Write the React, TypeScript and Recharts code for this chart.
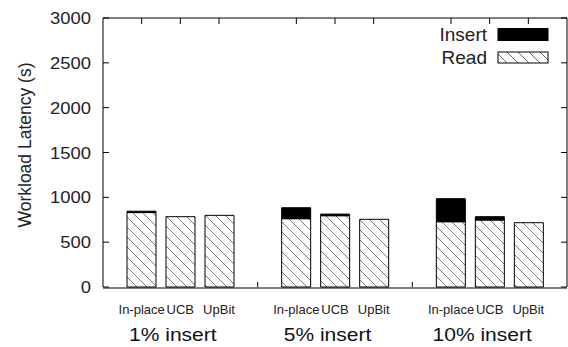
import React from "react";
import { ComposedChart, Bar, Line, XAxis, YAxis, Legend } from "recharts";

const groups = ["1% insert", "5% insert", "10% insert"];
const methods = ["In-place", "UCB", "UpBit"];
const readInPlace = [830, 762, 728];
const insertInPlace = [15, 122, 257];
const readUCB = [784, 795, 747];
const insertUCB = [0, 18, 37];
const readUpBit = [799, 755, 717];
const insertUpBit = [0, 0, 0];
const yTicks = [0, 500, 1000, 1500, 2000, 2500, 3000];
const legendItems = ["Insert", "Read"];
const yLabel = "Workload Latency (s)";

const data = groups.map((g, i) => ({
  group: g,
  pos: i + 0.5,
  readInPlace: readInPlace[i],
  insertInPlace: insertInPlace[i],
  readUCB: readUCB[i],
  insertUCB: insertUCB[i],
  readUpBit: readUpBit[i],
  insertUpBit: insertUpBit[i],
}));

// bar-center positions on a 0..groups.length numeric axis
const barTicks: number[] = [];
groups.forEach((_, g) => methods.forEach((_, m) => barTicks.push(g + (m + 1) / (methods.length + 1))));
const boundaryTicks = groups.slice(1).map((_, i) => i + 1);
const bottomTicks = [...barTicks, ...boundaryTicks];

const FONT = "'Liberation Sans', Arial, Helvetica, sans-serif";
const PLOT_LEFT = 103;
const PLOT_RIGHT = 567;
const PLOT_TOP = 18;
const PLOT_BOTTOM = 287;

const LeftTick = (props: any) => {
  const { y, payload } = props;
  return (
    <g>
      <line x1={PLOT_LEFT} x2={PLOT_LEFT + 6} y1={y} y2={y} stroke="#000" strokeWidth={1} />
      <text
        transform={`translate(91,${y + 6}) scale(1.15,1)`}
        textAnchor="end"
        fontSize={16}
        fontFamily={FONT}
        fill="#222"
      >
        {payload.value}
      </text>
    </g>
  );
};

const RightTick = (props: any) => {
  const { y } = props;
  return <line x1={PLOT_RIGHT} x2={PLOT_RIGHT - 6} y1={y} y2={y} stroke="#000" strokeWidth={1} />;
};

const TopTick = (props: any) => {
  const { x } = props;
  return <line x1={x} x2={x} y1={PLOT_TOP} y2={PLOT_TOP + 6} stroke="#000" strokeWidth={1} />;
};

const BottomTick = (props: any) => {
  const { x, payload } = props;
  const v = payload.value as number;
  if (Math.abs(v - Math.round(v)) < 1e-6) {
    return <line x1={x} x2={x} y1={PLOT_BOTTOM} y2={PLOT_BOTTOM - 5} stroke="#000" strokeWidth={1} />;
  }
  const g = Math.floor(v);
  const m = Math.round((v - g) * (methods.length + 1)) - 1;
  return (
    <text x={x} y={314} textAnchor="middle" fontSize={13} fontFamily={FONT} fill="#222">
      {methods[m]}
    </text>
  );
};

const GroupTick = (props: any) => {
  const { x, payload } = props;
  return (
    <text
      transform={`translate(${x - 7.5},341) scale(1.2,1)`}
      textAnchor="middle"
      fontSize={17.5}
      fontFamily={FONT}
      fill="#111"
    >
      {payload.value}
    </text>
  );
};

const YLabel = () => (
  <text
    transform="translate(31,145) rotate(-90)"
    textAnchor="middle"
    fontSize={17.5}
    fontFamily={FONT}
    fill="#222"
  >
    {yLabel}
  </text>
);

const LegendContent = () => (
  <svg width={140} height={50} style={{ overflow: "visible" }}>
    <defs>
      <pattern id="hatchLegend" patternUnits="userSpaceOnUse" width={11} height={11}>
        <path d="M0,0 L11,11 M-5.5,5.5 L5.5,16.5 M5.5,-5.5 L16.5,5.5" stroke="#666" strokeWidth={1} />
      </pattern>
    </defs>
    <text x={67} y={20.5} textAnchor="end" fontSize={19} fontFamily={FONT} fill="#222">
      {legendItems[0]}
    </text>
    <rect x={78} y={8.5} width={50} height={12} fill="#000" stroke="#000" />
    <text x={67} y={44} textAnchor="end" fontSize={19} fontFamily={FONT} fill="#222">
      {legendItems[1]}
    </text>
    <rect x={78} y={32} width={50} height={11} fill="url(#hatchLegend)" stroke="#000" />
  </svg>
);

export default function App() {
  return (
    <div style={{ position: "absolute", left: 0, top: 0, width: 568, height: 347, background: "#fff" }}>
      <ComposedChart
        width={568}
        height={347}
        data={data}
        margin={{ top: PLOT_TOP - 1, right: 0, bottom: 0, left: 0 }}
        barSize={29}
        barGap={10}
      >
        <defs>
          <pattern id="hatch" patternUnits="userSpaceOnUse" width={10} height={10}>
            <path d="M0,0 L10,10 M-5,5 L5,15 M5,-5 L15,5" stroke="#777" strokeWidth={1} />
          </pattern>
        </defs>
        <XAxis
          xAxisId="cat"
          dataKey="group"
          type="category"
          height={59}
          axisLine={{ stroke: "#000" }}
          tickLine={false}
          tick={<GroupTick />}
          interval={0}
        />
        <XAxis
          xAxisId="bottom"
          dataKey="pos"
          type="number"
          domain={[0, groups.length]}
          allowDataOverflow
          ticks={bottomTicks}
          height={1}
          axisLine={false}
          tickLine={false}
          tick={<BottomTick />}
          interval={0}
        />
        <XAxis
          xAxisId="top"
          dataKey="pos"
          orientation="top"
          type="number"
          domain={[0, groups.length]}
          allowDataOverflow
          ticks={barTicks}
          height={1}
          axisLine={{ stroke: "#000" }}
          tickLine={false}
          tick={<TopTick />}
          interval={0}
        />
        <YAxis
          yAxisId="left"
          domain={[0, 3000]}
          ticks={yTicks}
          width={PLOT_LEFT}
          axisLine={{ stroke: "#000" }}
          tickLine={false}
          tick={<LeftTick />}
          interval={0}
          label={<YLabel />}
        />
        <YAxis
          yAxisId="right"
          orientation="right"
          domain={[0, 3000]}
          allowDataOverflow
          ticks={yTicks}
          width={1}
          axisLine={{ stroke: "#000" }}
          tickLine={false}
          tick={<RightTick />}
          interval={0}
        />
        <Legend
          layout="vertical"
          align="center"
          verticalAlign="middle"
          content={<LegendContent />}
          wrapperStyle={{ left: 420, top: 20, width: 140, height: 50 }}
        />
        <Bar xAxisId="cat" yAxisId="left" dataKey="readInPlace" stackId="a" fill="url(#hatch)" stroke="#000" strokeWidth={1} isAnimationActive={false} />
        <Bar xAxisId="cat" yAxisId="left" dataKey="insertInPlace" stackId="a" fill="#000" stroke="#000" strokeWidth={1} isAnimationActive={false} />
        <Bar xAxisId="cat" yAxisId="left" dataKey="readUCB" stackId="b" fill="url(#hatch)" stroke="#000" strokeWidth={1} isAnimationActive={false} />
        <Bar xAxisId="cat" yAxisId="left" dataKey="insertUCB" stackId="b" fill="#000" stroke="#000" strokeWidth={1} isAnimationActive={false} />
        <Bar xAxisId="cat" yAxisId="left" dataKey="readUpBit" stackId="c" fill="url(#hatch)" stroke="#000" strokeWidth={1} isAnimationActive={false} />
        <Bar xAxisId="cat" yAxisId="left" dataKey="insertUpBit" stackId="c" fill="#000" stroke="#000" strokeWidth={1} isAnimationActive={false} />
        <Line xAxisId="top" yAxisId="right" dataKey="readUCB" stroke="none" dot={false} activeDot={false} isAnimationActive={false} legendType="none" />
        <Line xAxisId="bottom" yAxisId="right" dataKey="readUCB" stroke="none" dot={false} activeDot={false} isAnimationActive={false} legendType="none" />
      </ComposedChart>
    </div>
  );
}
